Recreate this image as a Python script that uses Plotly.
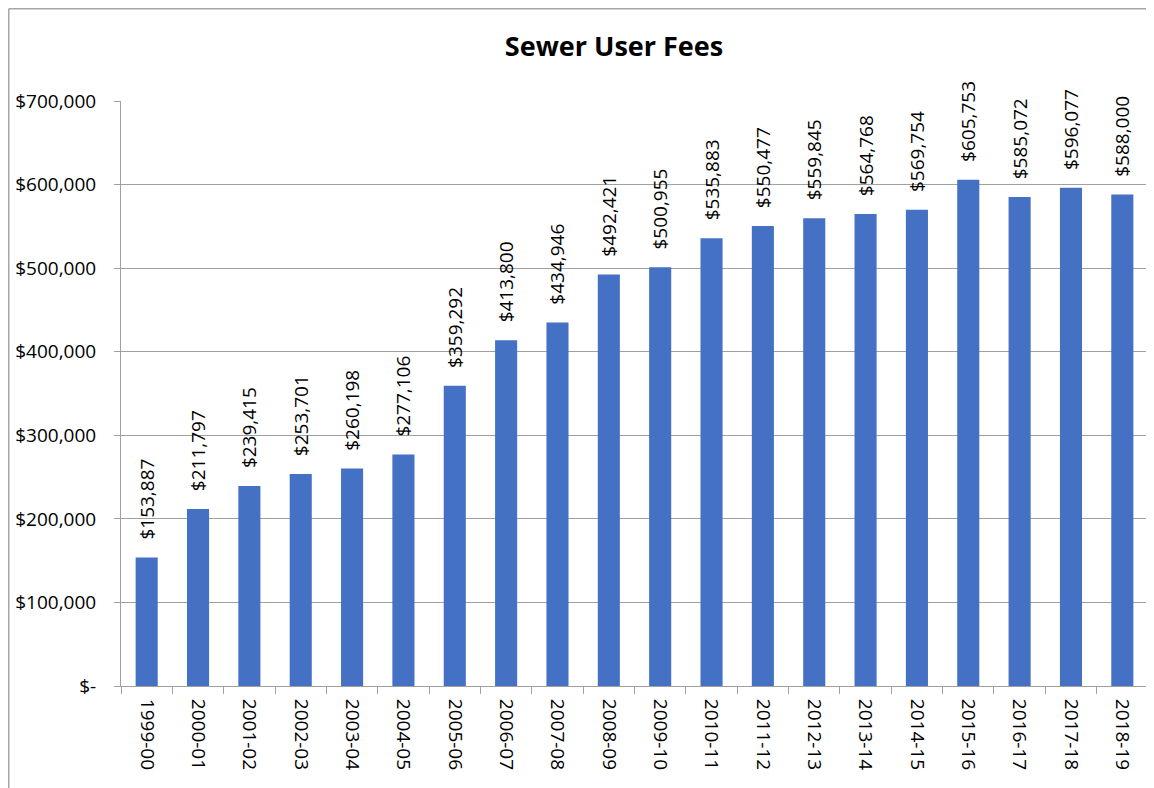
import plotly.graph_objects as go

# Fiscal years and sewer user fee totals
years = ["1999-00", "2000-01", "2001-02", "2002-03", "2003-04", "2004-05",
         "2005-06", "2006-07", "2007-08", "2008-09", "2009-10", "2010-11",
         "2011-12", "2012-13", "2013-14", "2014-15", "2015-16", "2016-17",
         "2017-18", "2018-19"]
fees = [153887, 211797, 239415, 253701, 260198, 277106, 359292, 413800,
        434946, 492421, 500955, 535883, 550477, 559845, 564768, 569754,
        605753, 585072, 596077, 588000]

y_ticks = [0, 100000, 200000, 300000, 400000, 500000, 600000, 700000]
y_tick_labels = ["$-", "$100,000", "$200,000", "$300,000", "$400,000",
                 "$500,000", "$600,000", "$700,000"]

# page body has an 8px margin, so the figure is shrunk to fit the window
W, H = 1146, 780
L, R, T, B = 113, 6, 93, 102
pw, ph = W - L - R, H - T - B

fig = go.Figure()

fig.add_trace(go.Bar(
    x=years,
    y=fees,
    marker=dict(color="#4571c4", line=dict(width=0)),
    # leading no-break spaces push the rotated labels off the bar tops
    text=[f"\u00a0\u00a0\u00a0${v:,}" for v in fees],
    textposition="outside",
    textangle=-90,
    constraintext="none",
    cliponaxis=False,
    textfont=dict(family="Open Sans", size=19, color="black"),
    width=0.43,
))

# outer chart border (left and top edges visible in the picture)
def px_x(v):
    return (v - L) / pw

def px_y(v):
    return (H - B - v) / ph

fig.add_shape(type="line", xref="paper", yref="paper",
              x0=px_x(0.75), x1=px_x(0.75), y0=px_y(H), y1=px_y(0.75),
              line=dict(color="#a6a6a6", width=1.5))
fig.add_shape(type="line", xref="paper", yref="paper",
              x0=px_x(0.75), x1=px_x(W), y0=px_y(0.75), y1=px_y(0.75),
              line=dict(color="#a6a6a6", width=1.5))

fig.update_layout(
    width=W, height=H,
    margin=dict(l=L, r=R, t=T, b=B),
    paper_bgcolor="white",
    plot_bgcolor="white",
    showlegend=False,
    font=dict(family="Open Sans", size=19, color="black"),
    title=dict(text="<b>Sewer User Fees</b>", x=606 / W, xanchor="center",
               y=1 - 39 / H, yanchor="middle",
               font=dict(family="Open Sans", size=27, color="black")),
    bargap=0.57,
)

fig.update_xaxes(
    type="category",
    tickangle=90,
    tickson="boundaries",
    ticks="outside",
    ticklen=7,
    tickcolor="#a0a0a0",
    ticklabelstandoff=8,
    showline=True,
    linecolor="#a0a0a0",
    linewidth=1,
    showgrid=False,
    tickfont=dict(family="Open Sans", size=19, color="black"),
)

fig.update_yaxes(
    range=[0, 700000],
    tickvals=y_ticks,
    ticktext=y_tick_labels,
    ticks="outside",
    ticklen=6,
    tickcolor="#a0a0a0",
    ticklabelstandoff=14,
    showline=True,
    linecolor="#a0a0a0",
    linewidth=1,
    showgrid=True,
    gridcolor="#a0a0a0",
    gridwidth=1,
    zeroline=False,
    tickfont=dict(family="Open Sans", size=19, color="black"),
)

fig.write_html("out.html")
